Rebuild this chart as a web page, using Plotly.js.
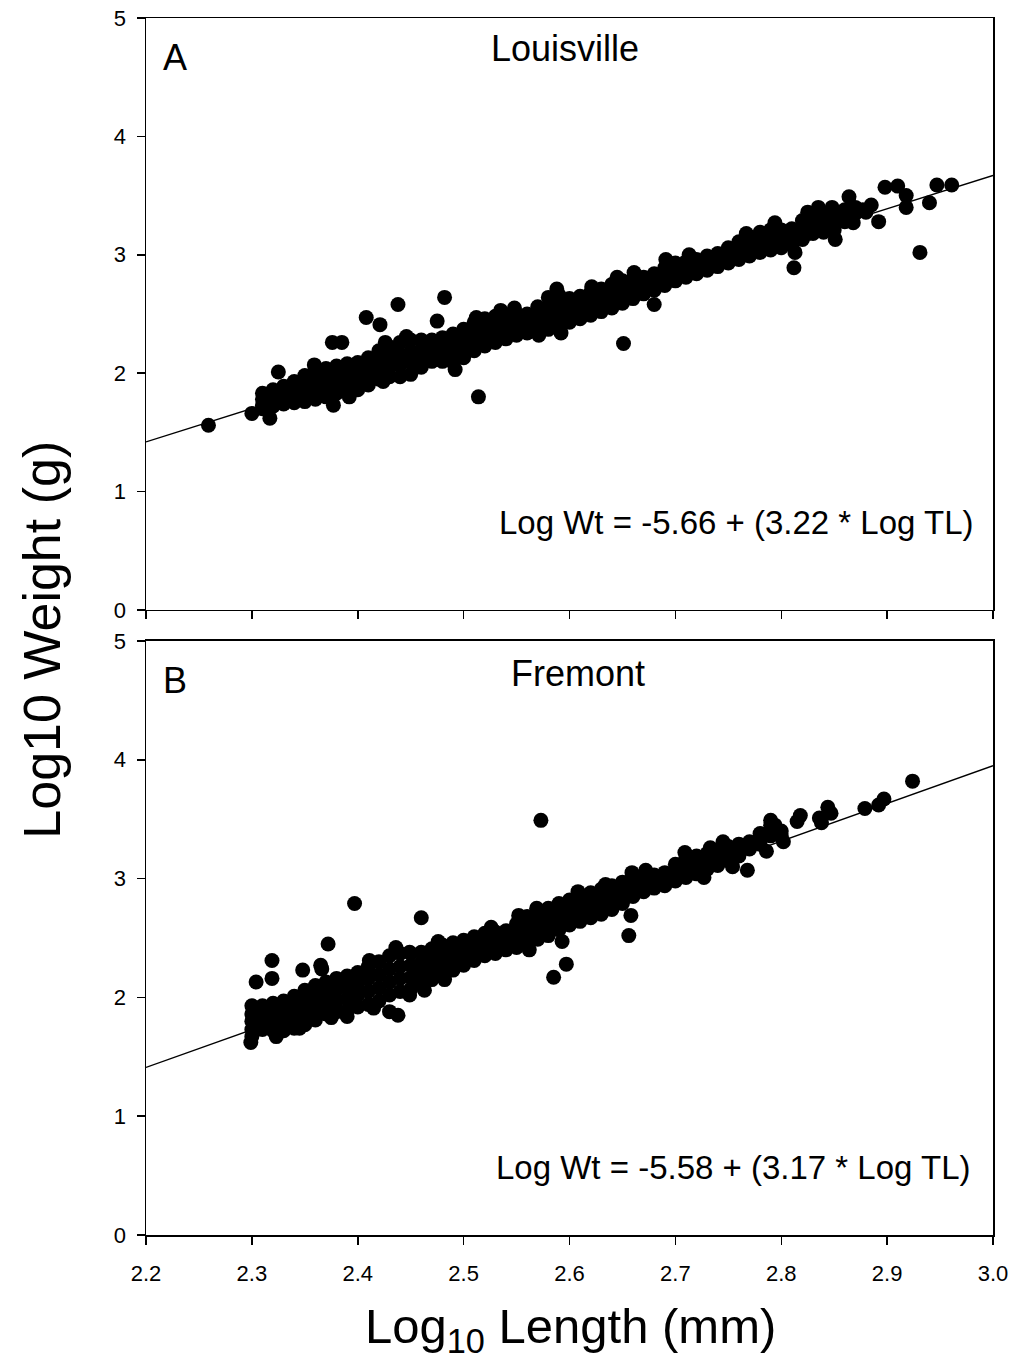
<!DOCTYPE html>
<html><head><meta charset="utf-8">
<script src="https://cdn.plot.ly/plotly-3.0.1.min.js"></script>
<style>html,body{margin:0;padding:0;background:#fff}</style>
</head><body>
<div id="chart" style="width:1019px;height:1359px"></div>
<script>
// ---------- data ----------
const xTickVals = [2.2, 2.3, 2.4, 2.5, 2.6, 2.7, 2.8, 2.9, 3.0];
const yTickVals = [0, 1, 2, 3, 4, 5];

// Panel A (Louisville): dense band, read column by column (log length -> log weights)
const louisvilleLen = [2.31,2.32,2.33,2.34,2.35,2.36,2.37,2.38,2.39,2.40,2.41,2.42,2.43,2.44,2.45,2.46,2.47,2.48,2.49,2.50,
  2.51,2.52,2.53,2.54,2.55,2.56,2.57,2.58,2.59,2.60,2.61,2.62,2.63,2.64,2.65,2.66,2.67,2.68,2.69,2.70,
  2.71,2.72,2.73,2.74,2.75,2.76,2.77,2.78,2.79,2.80,2.81,2.82,2.83,2.84,2.85,2.86,2.87];
const louisvilleWt = [
  [1.83,1.78,1.73,1.70],[1.86,1.81,1.77,1.72],[1.89,1.84,1.79,1.74],[1.93,1.87,1.81,1.75],[1.98,1.91,1.83,1.76],
  [2.02,1.94,1.86,1.78],[2.04,1.96,1.88,1.80],[2.06,1.98,1.91,1.83],[2.08,2.00,1.93,1.85],[2.09,2.01,1.94,1.86],
  [2.13,2.05,1.98,1.90],[2.19,2.11,2.03,1.95],[2.22,2.14,2.05,1.97],[2.26,2.16,2.07,1.97],[2.28,2.18,2.09,1.99],
  [2.28,2.20,2.13,2.05],[2.28,2.22,2.16,2.10],[2.30,2.23,2.17,2.10],[2.33,2.25,2.17,2.09],[2.37,2.29,2.21,2.13],
  [2.43,2.35,2.27,2.19],[2.46,2.38,2.31,2.23],[2.48,2.41,2.33,2.26],[2.49,2.42,2.36,2.29],[2.50,2.44,2.38,2.32],
  [2.50,2.45,2.39,2.34],[2.56,2.49,2.42,2.35],[2.64,2.55,2.46,2.37],[2.66,2.57,2.49,2.40],[2.63,2.56,2.50,2.43],
  [2.65,2.59,2.52,2.46],[2.68,2.62,2.55,2.49],[2.71,2.65,2.58,2.52],[2.75,2.68,2.62,2.55],[2.78,2.72,2.65,2.59],
  [2.79,2.74,2.68,2.63],[2.81,2.76,2.72,2.67],[2.84,2.79,2.75,2.70],[2.89,2.84,2.79,2.74],[2.93,2.88,2.83,2.78],
  [2.94,2.90,2.85,2.81],[2.96,2.92,2.88,2.84],[2.99,2.95,2.91,2.87],[3.01,2.97,2.94,2.90],[3.06,3.02,2.97,2.93],
  [3.11,3.06,3.01,2.96],[3.15,3.10,3.04,2.99],[3.19,3.13,3.08,3.02],[3.21,3.15,3.10,3.04],[3.21,3.16,3.11,3.06],
  [3.22,3.17,3.13,3.08],[3.29,3.24,3.18,3.13],[3.35,3.29,3.24,3.18],[3.35,3.30,3.24,3.19],[3.36,3.31,3.26,3.21],
  [3.38,3.33,3.28],[3.40,3.35]
];
// Panel A scattered / outlying fish
const louisvilleOtherLen = [2.259,2.300,2.317,2.325,2.376,2.385,2.377,2.408,2.421,2.438,2.475,2.482,2.492,2.514,2.651,2.680,2.588,
  2.812,2.813,2.851,2.864,2.868,2.892,2.898,2.910,2.918,2.918,2.931,2.940,2.947,2.961,2.885,2.880,2.825,2.835,2.848,2.825,2.794,
  2.359,2.426,2.446,2.512,2.535,2.548,2.621,2.645,2.661,2.691,2.713,2.767,2.794,2.392,2.424,2.571,2.592,2.852,2.867,2.877];
const louisvilleOtherWt = [1.56,1.66,1.62,2.01,2.26,2.26,1.73,2.47,2.41,2.58,2.44,2.64,2.03,1.80,2.25,2.58,2.71,
  2.89,3.02,3.13,3.49,3.27,3.28,3.57,3.58,3.50,3.40,3.02,3.44,3.59,3.59,3.42,3.36,3.36,3.40,3.40,3.18,3.27,
  2.07,2.26,2.31,2.47,2.53,2.55,2.73,2.81,2.85,2.96,3.00,3.18,3.25,1.80,1.93,2.32,2.34,3.32,3.35,3.38];
const louisvilleFitLen = [2.2, 3.0];
const louisvilleFitWt = [1.42, 3.67];

// Panel B (Fremont)
const fremontLen = [2.30,2.31,2.32,2.33,2.34,2.35,2.36,2.37,2.38,2.39,2.40,2.41,2.42,2.43,2.44,2.45,2.46,2.47,2.48,2.49,
  2.50,2.51,2.52,2.53,2.54,2.55,2.56,2.57,2.58,2.59,2.60,2.61,2.62,2.63,2.64,2.65,2.66,2.67,2.68,2.69,
  2.70,2.71,2.72,2.73,2.74,2.75,2.76,2.77,2.78,2.79,2.80];
const fremontWt = [
  [1.93,1.86,1.80,1.73,1.67],[1.93,1.87,1.80,1.73],[1.95,1.87,1.80,1.72],[1.97,1.89,1.80,1.72],[2.01,1.92,1.83,1.74],
  [2.06,1.96,1.86,1.77],[2.10,2.01,1.91,1.81],[2.13,2.04,1.95,1.86],[2.16,2.07,1.97,1.88],[2.18,2.09,1.99,1.89],
  [2.21,2.12,2.02,1.92],[2.26,2.16,2.05,1.94],[2.30,2.19,2.08,1.97],[2.35,2.24,2.13,2.02],[2.37,2.26,2.16,2.05],
  [2.37,2.27,2.17,2.07],[2.38,2.29,2.20,2.11],[2.41,2.32,2.24,2.15],[2.44,2.36,2.28,2.20],[2.46,2.39,2.31,2.23],
  [2.48,2.41,2.34,2.27],[2.51,2.44,2.38,2.31],[2.54,2.48,2.41,2.35],[2.55,2.49,2.43,2.37],[2.56,2.51,2.45,2.40],
  [2.62,2.55,2.48,2.42],[2.68,2.61,2.53,2.46],[2.72,2.64,2.57,2.49],[2.75,2.68,2.60,2.52],[2.79,2.71,2.64,2.57],
  [2.82,2.75,2.68,2.61],[2.85,2.78,2.71,2.64],[2.88,2.81,2.74,2.67],[2.91,2.84,2.77,2.70],[2.94,2.88,2.81,2.74],
  [2.97,2.91,2.85,2.79],[2.99,2.94,2.89,2.85],[3.01,2.97,2.93,2.89],[3.03,2.99,2.95,2.92],[3.05,3.01,2.98,2.94],
  [3.12,3.07,3.02,2.98],[3.18,3.12,3.07,3.01],[3.19,3.14,3.09,3.04],[3.21,3.16,3.12,3.08],[3.24,3.20,3.15,3.11],
  [3.27,3.23,3.19,3.15],[3.29,3.25,3.22,3.19],[3.31,3.28,3.25],[3.38,3.33,3.29],[3.45,3.40,3.36],[3.40,3.36]
];
const fremontOtherLen = [2.304,2.319,2.319,2.348,2.365,2.366,2.372,2.397,2.460,2.430,2.438,2.573,2.585,2.597,2.593,2.656,2.658,
  2.768,2.754,2.786,2.802,2.815,2.818,2.836,2.838,2.844,2.847,2.879,2.892,2.897,2.924,2.790,2.794,
  2.299,2.323,2.345,2.411,2.436,2.449,2.476,2.526,2.552,2.569,2.608,2.634,2.659,2.672,2.709,2.733,2.745,
  2.375,2.390,2.415,2.449,2.463,2.482,2.562,2.727];
const fremontOtherWt = [2.13,2.31,2.16,2.23,2.27,2.24,2.45,2.79,2.67,1.88,1.85,3.49,2.17,2.28,2.47,2.52,2.69,
  3.07,3.10,3.23,3.31,3.48,3.53,3.51,3.47,3.60,3.55,3.59,3.62,3.67,3.82,3.49,3.45,
  1.62,1.67,1.74,2.31,2.42,2.38,2.47,2.59,2.69,2.75,2.89,2.95,3.05,3.07,3.22,3.26,3.31,
  1.83,1.84,1.91,2.02,2.06,2.15,2.40,3.01];
const fremontFitLen = [2.2, 3.0];
const fremontFitWt = [1.41, 3.95];

// ---------- build ----------
function expand(lens, wts) {
  const xs = [], ys = [];
  lens.forEach((x, i) => wts[i].forEach(y => { xs.push(x); ys.push(y); }));
  return {xs, ys};
}
const A = expand(louisvilleLen, louisvilleWt);
const B = expand(fremontLen, fremontWt);

const FONT = 'Arial, "Liberation Sans", sans-serif';
const mk = {color: '#000', size: 15, line: {width: 0}};

const traces = [
  {x: louisvilleFitLen, y: louisvilleFitWt, xaxis: 'x', yaxis: 'y', mode: 'lines', line: {color: '#000', width: 1.3}, hoverinfo: 'skip'},
  {x: A.xs.concat(louisvilleOtherLen), y: A.ys.concat(louisvilleOtherWt), xaxis: 'x', yaxis: 'y', mode: 'markers', marker: mk},
  {x: fremontFitLen, y: fremontFitWt, xaxis: 'x2', yaxis: 'y2', mode: 'lines', line: {color: '#000', width: 1.3}, hoverinfo: 'skip'},
  {x: B.xs.concat(fremontOtherLen), y: B.ys.concat(fremontOtherWt), xaxis: 'x2', yaxis: 'y2', mode: 'markers', marker: mk}
];

function xAx(anchor, labels) {
  return {anchor, domain: [0, 1], range: [2.2, 3.0], tickvals: xTickVals, tickformat: '.1f',
    showticklabels: labels, ticks: 'outside', ticklen: 8, tickwidth: 1.5, tickcolor: '#000',
    showline: true, mirror: true, linewidth: 1.5, linecolor: '#000', showgrid: false, zeroline: false,
    ticklabelstandoff: 10, tickfont: {family: FONT, size: 22, color: '#000'}};
}
function yAx(anchor, domain) {
  return {anchor, domain, range: [0, 5], tickvals: yTickVals,
    ticks: 'outside', ticklen: 8, tickwidth: 1.5, tickcolor: '#000',
    showline: true, mirror: true, linewidth: 1.5, linecolor: '#000', showgrid: false, zeroline: false,
    ticklabelstandoff: 6, tickfont: {family: FONT, size: 22, color: '#000'}};
}

const ann = (text, xref, yref, x, y, xanchor, size, extra) => Object.assign({
  text, xref, yref, x, y, xanchor, yanchor: 'middle', showarrow: false,
  font: {family: FONT, size, color: '#000'}}, extra || {});

const layout = {
  width: 1019, height: 1359,
  margin: {l: 146, r: 26, t: 18, b: 124},
  paper_bgcolor: '#fff', plot_bgcolor: '#fff',
  showlegend: false,
  xaxis: xAx('y', false),
  yaxis: yAx('x', [0.5136, 1]),
  xaxis2: xAx('y2', true),
  yaxis2: yAx('x2', [0, 0.4881]),
  annotations: [
    ann('A', 'x domain', 'y domain', 0.018, 0.934, 'left', 36),
    ann('Louisville', 'x domain', 'y domain', 0.495, 0.949, 'center', 36),
    ann('Log Wt = -5.66 + (3.22 * Log TL)', 'x domain', 'y domain', 0.980, 0.147, 'right', 33),
    ann('B', 'x2 domain', 'y2 domain', 0.018, 0.934, 'left', 36),
    ann('Fremont', 'x2 domain', 'y2 domain', 0.510, 0.946, 'center', 36),
    ann('Log Wt = -5.58 + (3.17 * Log TL)', 'x2 domain', 'y2 domain', 0.976, 0.113, 'right', 33),
    ann('Log10 Weight (g)', 'paper', 'paper', -0.123, 0.489, 'center', 52, {textangle: -90}),
    ann('Log<sub>10</sub> Length (mm)', 'paper', 'paper', 0.5006, -0.078, 'center', 49)
  ]
};

Plotly.newPlot('chart', traces, layout, {staticPlot: true, displayModeBar: false});
</script>
</body></html>
